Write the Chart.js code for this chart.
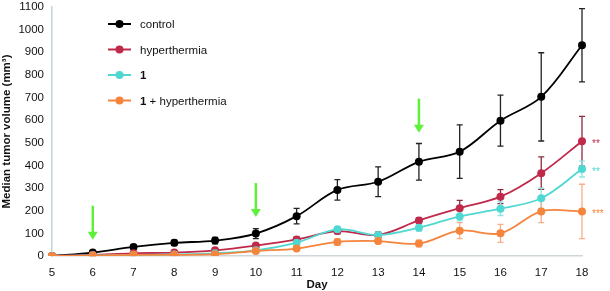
<!DOCTYPE html>
<html>
<head>
<meta charset="utf-8">
<script src="https://cdn.jsdelivr.net/npm/chart.js@4"></script>
<style>
    html, body { margin: 0; padding: 0; background: #fff; }
    #wrap { width: 610px; height: 291px; position: relative; }
</style>
</head>
<body>
<div id="wrap"><canvas id="chart"></canvas></div>
<script>
// Jours
const DAYS = ['5','6','7','8','9','10','11','12','13','14','15','16','17','18']

// Volumes médians (mm3)
const control      = [0, 15, 40, 58, 68, 99, 176, 292, 328, 416, 461, 598, 703, 931]
const hyperthermia = [0, 5, 12, 15, 25, 46, 73, 110, 93, 157, 211, 262, 366, 507]
const compound1    = [0, 3, 5, 7, 12, 25, 59, 118, 93, 125, 175, 209, 255, 384]
const combo        = [0, 2, 5, 5, 8, 22, 33, 62, 66, 55, 112, 100, 197, 197]

// Barres d'erreur (+/-)
const controlErr   = [0, 6, 8, 12, 14, 22, 34, 45, 66, 81, 118, 113, 195, 162]
const hyperErr     = [0, 3, 4, 5, 6, 8, 10, 12, 12, 12, 35, 31, 72, 110]
const comp1Err     = [0, 2, 3, 3, 4, 6, 10, 12, 12, 15, 20, 30, 45, 35]
const comboErr     = [0, 2, 3, 3, 4, 6, 8, 15, 12, 15, 35, 40, 50, 120]

// Flèches vertes (jour, pointe)
const ARROW_DAYS = ['6', '10', '14']
const ARROW_TIPS = [72, 172, 545]

// Astérisques
const STARS = ['', '**', '**', '***']

const SERIES = [
    { label: 'control',          data: control,      err: controlErr, color: '#000000', errColor: '#222222' },
    { label: 'hyperthermia',     data: hyperthermia, err: hyperErr,   color: '#c0294a', errColor: '#8e2a3a' },
    { label: '1',                data: compound1,    err: comp1Err,   color: '#4fd8d2', errColor: '#8fe6e2' },
    { label: '1 + hyperthermia', data: combo,        err: comboErr,   color: '#f5843c', errColor: '#f8ae86' }
]

const FONT = '"Liberation Sans", Arial, sans-serif'

// -- Barres d'erreur, flèches, légende --
const extras = {
    id: 'extras',
    beforeDatasetsDraw(chart) {
        const ctx = chart.ctx
        const x = chart.scales.x, y = chart.scales.y
        ctx.save()
        ctx.lineWidth = 1.3
        SERIES.forEach(s => {
            ctx.strokeStyle = s.errColor
            s.data.forEach((v, i) => {
                if (!s.err[i]) return
                const px = x.getPixelForValue(i)
                const top = y.getPixelForValue(v + s.err[i])
                const bot = y.getPixelForValue(Math.max(v - s.err[i], 0))
                ctx.beginPath()
                ctx.moveTo(px, top); ctx.lineTo(px, bot)
                ctx.moveTo(px - 3, top); ctx.lineTo(px + 3, top)
                ctx.moveTo(px - 3, bot); ctx.lineTo(px + 3, bot)
                ctx.stroke()
            })
        })
        ctx.restore()
    },
    afterDatasetsDraw(chart) {
        const ctx = chart.ctx
        const x = chart.scales.x, y = chart.scales.y
        ctx.save()

        // flèches
        ctx.strokeStyle = '#5ef03a'
        ctx.fillStyle = '#5ef03a'
        ctx.lineWidth = 2.5
        ARROW_DAYS.forEach((d, i) => {
            const px = x.getPixelForValue(DAYS.indexOf(d))
            const tip = y.getPixelForValue(ARROW_TIPS[i])
            ctx.beginPath()
            ctx.moveTo(px, tip - 34); ctx.lineTo(px, tip - 5)
            ctx.stroke()
            ctx.beginPath()
            ctx.moveTo(px - 5, tip - 8); ctx.lineTo(px + 5, tip - 8); ctx.lineTo(px, tip)
            ctx.closePath()
            ctx.fill()
        })

        // astérisques
        ctx.font = '10px ' + FONT
        ctx.textBaseline = 'middle'
        const last = DAYS.length - 1
        SERIES.forEach((s, i) => {
            if (!STARS[i]) return
            ctx.fillStyle = s.color
            ctx.fillText(STARS[i], x.getPixelForValue(last) + 10, y.getPixelForValue(s.data[last]) + 3)
        })

        // légende
        ctx.font = '11.5px ' + FONT
        SERIES.forEach((s, i) => {
            const ly = 24 + i * 25.5
            ctx.strokeStyle = s.color
            ctx.fillStyle = s.color
            ctx.lineWidth = 2
            ctx.beginPath()
            ctx.moveTo(108, ly); ctx.lineTo(131, ly)
            ctx.stroke()
            ctx.beginPath()
            ctx.arc(119.5, ly, 4, 0, Math.PI * 2)
            ctx.fill()
            ctx.fillStyle = '#111'
            if (s.label.startsWith('1')) {
                ctx.font = 'bold 11.5px ' + FONT
                ctx.fillText('1', 140, ly + 1)
                const w = ctx.measureText('1').width
                ctx.font = '11.5px ' + FONT
                ctx.fillText(s.label.slice(1), 140 + w, ly + 1)
            } else {
                ctx.fillText(s.label, 140, ly + 1)
            }
        })
        ctx.restore()
    }
}

new Chart(document.getElementById('chart'), {
    type: 'line',
    data: {
        labels: DAYS,
        datasets: SERIES.map(s => ({
            label: s.label,
            data: s.data,
            borderColor: s.color,
            backgroundColor: s.color,
            pointBackgroundColor: s.color,
            pointBorderWidth: 0,
            pointRadius: 4,
            borderWidth: 1.8,
            tension: 0.35
        })).reverse()
    },
    options: {
        responsive: true,
        maintainAspectRatio: false,
        animation: false,
        layout: { padding: { top: 7, right: 28, left: 0, bottom: 0 } },
        plugins: {
            legend: { display: false },
            tooltip: { enabled: false }
        },
        scales: {
            x: {
                offset: false,
                grid: { display: false, drawTicks: false },
                border: { color: '#cfd6da', width: 1.5 },
                ticks: { color: '#111', font: { family: FONT, size: 11.5 }, padding: 10, maxRotation: 0 },
                title: { display: true, text: 'Day', color: '#111', font: { family: FONT, size: 11.5, weight: 'bold' }, padding: { top: 7, bottom: -1 } },
                afterFit: s => { s.height = 35 }
            },
            y: {
                min: 0,
                max: 1100,
                grid: { display: false, drawTicks: false },
                border: { color: '#c3d3da', width: 1.5 },
                ticks: { stepSize: 100, color: '#111', font: { family: FONT, size: 11.5 }, padding: 8, callback: v => String(v) },
                title: { display: true, text: 'Median tumor volume (mm³)', color: '#111', font: { family: FONT, size: 11.5, weight: 'bold' }, padding: 0 },
                afterFit: s => { s.width = 52; s.paddingTop = 0; s.paddingBottom = 0 }
            }
        }
    },
    plugins: [extras]
})
</script>
</body>
</html>
